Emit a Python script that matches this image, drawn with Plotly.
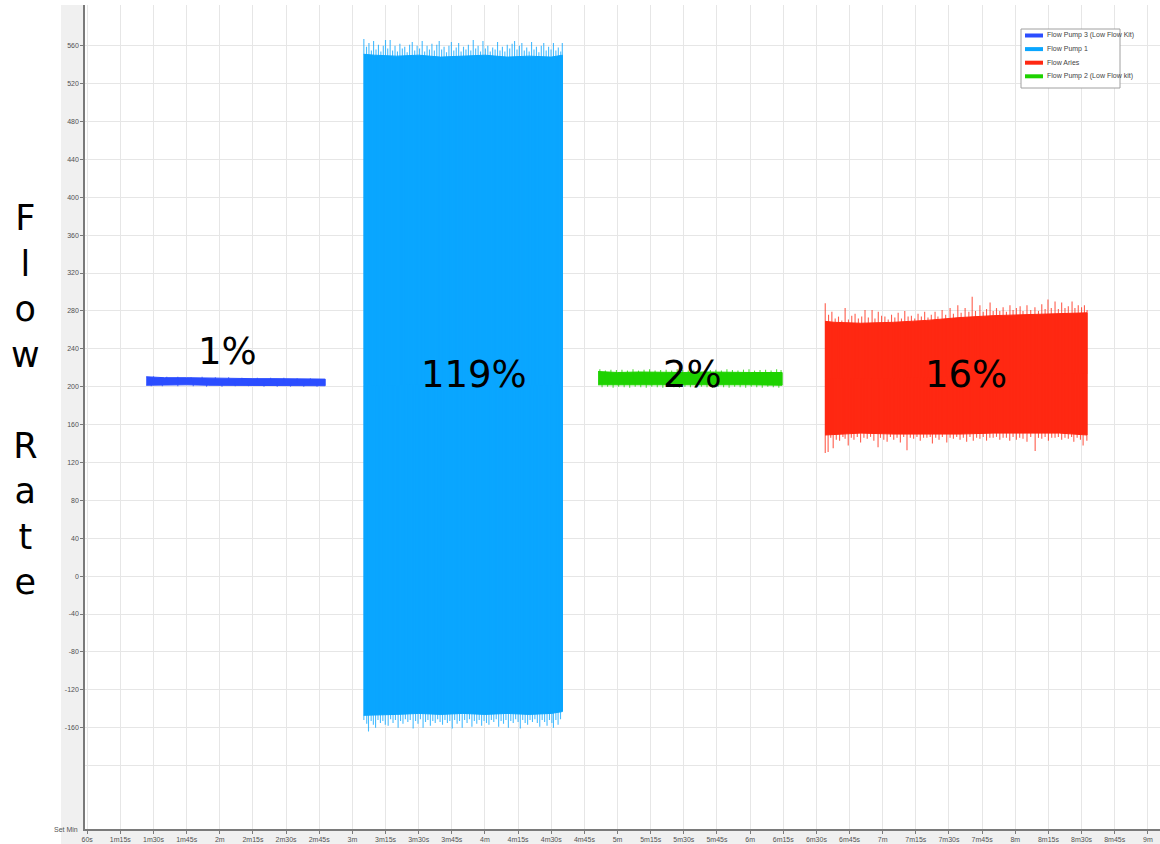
import numpy as np
import plotly.graph_objects as go

# ---------------------------------------------------------------------------
# Flow traces, summarised as the body of each band (upper / lower envelope)
# plus the individual excursions that poke out beyond the body.
# Time in seconds, flow in the instrument's units.
# ---------------------------------------------------------------------------

# Flow Pump 3 (Low Flow Kit)
pump3_t = [86.7, 95, 105, 115, 125, 135, 145, 155, 167.7]
pump3_hi = [210.5, 209.5, 209.5, 209, 209, 208.5, 208.5, 208, 208]
pump3_lo = [201.5, 202, 202, 201.5, 201.5, 201.5, 201, 201, 201]
pump3_peaks = [(90, 211), (96, 210.5), (101, 210.5), (107, 210), (112, 210.5), (118, 210),
               (124, 210), (130, 209.5), (137, 209.5), (143, 209.5), (149, 209.5), (155, 209), (161, 209)]
pump3_dips = [(89, 200.5), (94, 200.5), (101, 200.5), (108, 200.5), (114, 200), (121, 200),
              (127, 200.5), (133, 200.5), (140, 200), (146, 200), (152, 200), (158, 200), (164, 200)]

# Flow Pump 1
pump1_t = [185.1, 190, 200, 210, 220, 230, 240, 250, 260, 270, 275.1]
pump1_hi = [551, 550, 549, 550, 548, 549, 550, 548, 549, 548, 550]
pump1_lo = [-147, -147, -146, -145, -146, -145, -146, -145, -146, -145, -143]
pump1_peaks = [
    (185.2, 567), (186.4, 559), (187.5, 563), (188.6, 555), (189.6, 565), (190.7, 556),
    (191.8, 561), (192.9, 554), (194.0, 560), (195.0, 566), (196.0, 557), (197.1, 566),
    (198.2, 555), (199.3, 560), (200.4, 554), (201.5, 562), (202.6, 557), (203.7, 559),
    (204.8, 553), (205.9, 561), (207.1, 564), (208.2, 555), (209.3, 560), (210.4, 557),
    (211.6, 565), (212.7, 554), (213.8, 560), (214.9, 556), (216.0, 562), (217.1, 555),
    (218.2, 561), (219.3, 565), (220.4, 556), (221.5, 559), (222.6, 553), (223.7, 560),
    (224.8, 564), (225.9, 555), (227.0, 558), (228.1, 563), (229.2, 554), (230.3, 559),
    (231.4, 556), (232.5, 561), (233.6, 555), (234.7, 566), (235.8, 557), (236.9, 560),
    (238.0, 554), (239.1, 565), (240.2, 557), (241.3, 560), (242.4, 554), (243.5, 558),
    (244.6, 556), (245.7, 564), (246.8, 555), (247.9, 559), (249.0, 554), (250.1, 561),
    (251.2, 557), (252.3, 562), (253.4, 565), (254.5, 556), (255.6, 560), (256.7, 563),
    (257.8, 555), (258.9, 558), (260.0, 554), (261.1, 564), (262.2, 556), (263.3, 559),
    (264.4, 553), (265.5, 560), (266.6, 563), (267.7, 555), (268.8, 559), (269.9, 556),
    (271.0, 563), (272.1, 555), (273.2, 558), (274.3, 554), (275.0, 563),
]
pump1_dips = [
    (185.2, -152), (186.5, -156), (187.3, -164), (188.5, -153), (189.5, -157), (190.5, -160),
    (191.6, -152), (192.7, -155), (193.8, -153), (194.9, -157), (196.2, -158), (197.3, -151),
    (198.4, -155), (199.5, -152), (200.7, -160), (201.8, -153), (202.9, -156), (204.0, -151),
    (205.1, -154), (206.2, -152), (207.5, -161), (208.6, -153), (209.7, -156), (210.8, -151),
    (212.0, -160), (213.1, -154), (214.2, -152), (215.3, -158), (216.4, -153), (217.5, -155),
    (218.6, -151), (219.7, -154), (220.8, -157), (221.9, -152), (223.0, -155), (224.1, -153),
    (225.2, -161), (226.3, -152), (227.4, -156), (228.5, -153), (229.7, -160), (230.8, -152),
    (231.9, -155), (233.0, -151), (234.1, -159), (235.2, -153), (236.3, -156), (237.4, -152),
    (238.5, -158), (239.6, -153), (240.7, -155), (241.8, -157), (242.9, -152), (244.0, -154),
    (245.1, -151), (246.2, -159), (247.3, -153), (248.4, -156), (249.5, -152), (250.6, -160),
    (251.7, -153), (252.8, -155), (253.9, -151), (255.0, -154), (256.0, -161), (257.1, -152),
    (258.2, -155), (259.3, -157), (260.4, -152), (261.5, -154), (262.6, -151), (263.7, -155),
    (264.8, -159), (265.9, -152), (267.0, -154), (268.1, -158), (269.2, -152), (270.3, -155),
    (271.0, -160), (272.1, -152), (273.1, -157), (274.2, -151),
]

# Flow Pump 2 (Low Flow kit)
pump2_t = [291.2, 300, 310, 320, 330, 340, 350, 360, 374.5]
pump2_hi = [216, 215, 215.5, 215, 215, 215.5, 215, 215, 215]
pump2_lo = [202, 202, 201.5, 202, 202, 201.5, 202, 202, 201.5]
pump2_peaks = [
    (292, 218.5), (294.5, 217), (297, 218), (299.5, 217.5), (302, 218), (304.5, 217),
    (307, 218.5), (309.5, 217), (312, 218), (314.5, 218.5), (317, 217), (319.5, 217.5),
    (322, 218), (324.5, 217), (327, 218.5), (329.5, 217.5), (332, 217), (334.5, 218),
    (337, 218.5), (339.5, 217), (342, 217.5), (344.5, 218), (347, 217), (349.5, 218.5),
    (352, 217.5), (354.5, 217), (357, 218), (359.5, 218.5), (362, 217), (364.5, 217.5),
    (367, 218), (369.5, 217), (372, 218.5), (374, 217.5),
]
pump2_dips = [
    (293, 199.5), (295.5, 200), (298, 199), (300.5, 200), (303, 199.5), (305.5, 199),
    (308, 200), (310.5, 199.5), (313, 199), (315.5, 200), (318, 199.5), (320.5, 199),
    (323, 200), (325.5, 199.5), (328, 199), (330.5, 200), (333, 199.5), (335.5, 199),
    (338, 200), (340.5, 199.5), (343, 199), (345.5, 200), (348, 199.5), (350.5, 199),
    (353, 200), (355.5, 199.5), (358, 199), (360.5, 200), (363, 199.5), (365.5, 199),
    (368, 200), (370.5, 199.5), (373, 199),
]

# Flow Aries
aries_t = [393.9, 398, 410, 425, 440, 455, 470, 485, 500, 512.5]
aries_hi = [269, 268, 267, 268, 270, 273, 275, 276, 277, 278]
aries_lo = [149, 150, 151, 150, 150, 150, 151, 151, 151, 149]
aries_peaks = [
    (394.0, 288), (395.5, 276), (397.0, 279), (398.5, 272), (400.0, 274), (401.5, 270),
    (403.0, 283), (404.5, 271), (406.0, 275), (407.5, 277), (409.0, 272), (410.5, 274),
    (412.0, 281), (413.5, 273), (415.2, 281), (416.5, 272), (418.0, 279), (419.5, 275),
    (421.0, 274), (422.5, 271), (424.0, 276), (425.5, 273), (427.0, 278), (428.5, 272),
    (430.0, 280), (431.5, 274), (433.0, 275), (434.5, 272), (436.0, 277), (437.5, 274),
    (439.0, 279), (440.5, 273), (442.0, 276), (443.7, 279), (445.0, 274), (446.9, 281),
    (448.5, 276), (450.5, 283), (452.0, 277), (454.0, 286), (455.5, 278), (457.3, 283),
    (459.0, 279), (460.5, 295), (462.0, 280), (464.0, 286), (465.5, 279), (467.0, 282),
    (468.6, 289), (470.0, 280), (471.5, 283), (473.0, 280), (474.5, 284), (476.0, 279),
    (477.6, 286), (479.0, 281), (480.5, 283), (482.2, 285), (483.5, 280), (485.3, 286),
    (487.0, 281), (488.9, 284), (490.5, 280), (492.0, 287), (493.5, 282), (494.8, 292),
    (496.3, 283), (498.0, 290), (499.5, 282), (501.0, 289), (502.5, 283), (504.0, 285),
    (505.7, 290), (507.0, 283), (508.5, 286), (510.0, 284), (511.3, 286), (512.5, 281),
]
aries_dips = [
    (394.0, 130), (395.3, 131), (396.5, 146), (397.6, 135), (399.0, 144), (400.5, 143),
    (402.0, 147), (403.0, 145), (404.4, 138), (405.8, 146), (407.0, 144), (408.5, 147),
    (410.0, 141), (411.5, 146), (413.0, 145), (414.5, 147), (416.0, 143), (417.9, 136),
    (419.0, 146), (420.5, 144), (422.0, 142), (423.5, 147), (425.0, 144), (426.5, 146),
    (428.0, 141), (429.5, 147), (431.0, 133), (432.5, 146), (434.0, 145), (435.5, 147),
    (437.0, 143), (438.5, 146), (440.0, 146), (441.5, 147), (442.5, 140), (444.0, 146),
    (445.5, 144), (447.0, 147), (449.0, 141), (450.5, 146), (452.0, 145), (453.5, 147),
    (455.0, 144), (456.5, 146), (458.0, 142), (459.5, 147), (461.0, 143), (462.5, 146),
    (464.0, 145), (465.5, 147), (467.0, 143), (468.5, 146), (470.0, 146), (471.5, 147),
    (473.0, 144), (474.5, 146), (476.0, 146), (477.5, 143), (479.0, 147), (480.5, 144),
    (482.0, 146), (483.5, 145), (485.3, 142), (487.0, 147), (489.0, 132), (490.5, 146),
    (492.0, 145), (493.5, 147), (495.0, 143), (496.5, 146), (498.0, 146), (499.5, 147),
    (501.0, 144), (502.5, 146), (504.0, 145), (505.5, 147), (506.5, 142), (508.0, 146),
    (509.5, 144), (510.7, 138), (512.4, 143),
]

series_names = ["Flow Pump 3 (Low Flow Kit)", "Flow Pump 1", "Flow Aries", "Flow Pump 2 (Low Flow kit)"]
series_colors = ["#2b4dff", "#0aa6ff", "#ff2812", "#1ed200"]

# Percent labels written on each band: (text, time, flow)
band_labels = [("1%", 123.3, 237), ("119%", 235.1, 212.5), ("2%", 333.8, 212.5), ("16%", 457.7, 212.5)]

# Axis ticks
x_tick_vals = [60, 75, 90, 105, 120, 135, 150, 165, 180, 195, 210, 225, 240, 255, 270, 285,
               300, 315, 330, 345, 360, 375, 390, 405, 420, 435, 450, 465, 480, 495, 510, 525, 540]
x_tick_text = ["60s", "1m15s", "1m30s", "1m45s", "2m", "2m15s", "2m30s", "2m45s", "3m", "3m15s",
               "3m30s", "3m45s", "4m", "4m15s", "4m30s", "4m45s", "5m", "5m15s", "5m30s", "5m45s",
               "6m", "6m15s", "6m30s", "6m45s", "7m", "7m15s", "7m30s", "7m45s", "8m", "8m15s",
               "8m30s", "8m45s", "9m"]
y_tick_vals = [-160, -120, -80, -40, 0, 40, 80, 120, 160, 200, 240, 280, 320, 360, 400,
               440, 480, 520, 560]
y_tick_text = ["-160", "-120", "-80", "-40", "0", "40", "80", "120", "160", "200", "240",
               "280", "320", "360", "400", "440", "480", "520", "560"]
y_extra_grid = [-200]

# ---------------------------------------------------------------------------
W, H = 1160, 844
ML, MR, MT, MB = 85, 0, 5, 15
PW, PH = W - ML - MR, H - MT - MB


def px(x):
    return (x - ML) / PW


def py(y):
    return 1 - (y - MT) / PH


fig = go.Figure()


def add_band(t, hi, lo, peaks, dips, color):
    t = np.asarray(t, float)
    hi = np.asarray(hi, float)
    lo = np.asarray(lo, float)
    # body of the band
    fig.add_trace(go.Scatter(
        x=np.concatenate([t, t[::-1]]), y=np.concatenate([hi, lo[::-1]]),
        fill="toself", fillcolor=color, mode="lines",
        line=dict(color=color, width=1), hoverinfo="skip", showlegend=False,
    ))
    # excursions beyond the body, drawn from the band centre out to the extreme
    xs, ys = [], []
    for tt, v in list(peaks) + list(dips):
        mid = (np.interp(tt, t, hi) + np.interp(tt, t, lo)) / 2
        xs += [tt, tt, None]
        ys += [mid, v, None]
    if xs:
        fig.add_trace(go.Scatter(
            x=xs, y=ys, mode="lines", line=dict(color=color, width=1.1),
            opacity=0.75, hoverinfo="skip", showlegend=False,
        ))


add_band(pump3_t, pump3_hi, pump3_lo, pump3_peaks, pump3_dips, series_colors[0])
add_band(pump1_t, pump1_hi, pump1_lo, pump1_peaks, pump1_dips, series_colors[1])
add_band(pump2_t, pump2_hi, pump2_lo, pump2_peaks, pump2_dips, series_colors[3])
add_band(aries_t, aries_hi, aries_lo, aries_peaks, aries_dips, series_colors[2])

annotations = []
for text, tx, ty in band_labels:
    annotations.append(dict(x=tx, y=ty, xref="x", yref="y", text=text, showarrow=False,
                            font=dict(family="DejaVu Sans", size=37, color="#000000"),
                            xanchor="center", yanchor="middle"))

# vertical axis title, one letter per line
annotations.append(dict(
    x=px(25), y=py(400), xref="paper", yref="paper",
    text="<br>".join(["F", "l", "o", "w", "\u00a0", "R", "a", "t", "e"]),
    showarrow=False, font=dict(family="DejaVu Sans", size=35, color="#000000"),
    xanchor="center", yanchor="middle", align="center",
))

small_font = "Liberation Sans Narrow, Liberation Sans, sans-serif"

annotations.append(dict(
    x=px(80), y=py(829), xref="paper", yref="paper", text="Set Min", showarrow=False,
    font=dict(family=small_font, size=7, color="#555555"),
    xanchor="right", yanchor="middle",
))

shapes = [
    # grey frame strips around the plotting area
    dict(type="rect", xref="paper", yref="paper", x0=px(61), x1=px(85), y0=py(844), y1=py(5),
         fillcolor="#f0f0f0", line=dict(width=0), layer="below"),
    dict(type="rect", xref="paper", yref="paper", x0=px(61), x1=px(1160), y0=py(844), y1=py(829),
         fillcolor="#f0f0f0", line=dict(width=0), layer="below"),
]
# unlabelled grid line below the last tick
for gy in y_extra_grid:
    shapes.append(dict(type="line", xref="paper", yref="y", x0=0, x1=1, y0=gy, y1=gy,
                       line=dict(color="#e6e6e6", width=1), layer="below"))

# legend box
lx0, lx1, ly0, ly1 = 1021, 1120, 29, 88
shapes.append(dict(type="rect", xref="paper", yref="paper", x0=px(lx0), x1=px(lx1),
                   y0=py(ly1), y1=py(ly0), fillcolor="#ffffff",
                   line=dict(color="#a0a0a0", width=1), layer="above"))
for i, (name, color) in enumerate(zip(series_names, series_colors)):
    yy = 35.5 + i * 13.6
    shapes.append(dict(type="line", xref="paper", yref="paper", x0=px(1025), x1=px(1043),
                       y0=py(yy), y1=py(yy), line=dict(color=color, width=4), layer="above"))
    annotations.append(dict(x=px(1045), y=py(yy), xref="paper", yref="paper", text=name,
                            showarrow=False, xanchor="left", yanchor="middle",
                            font=dict(family=small_font, size=7, color="#444444")))

tick_font = dict(family=small_font, size=7, color="#505050")

fig.update_layout(
    width=W, height=H,
    margin=dict(l=ML, r=MR, t=MT, b=MB),
    paper_bgcolor="#ffffff", plot_bgcolor="#ffffff",
    showlegend=False,
    annotations=annotations, shapes=shapes,
    xaxis=dict(range=[59, 545.5], tickmode="array", tickvals=x_tick_vals, ticktext=x_tick_text,
               showgrid=True, gridcolor="#e6e6e6", gridwidth=1, zeroline=False,
               showline=True, linecolor="#7a7a7a", linewidth=1.5,
               ticks="outside", ticklen=3, tickcolor="#7a7a7a", tickfont=tick_font),
    yaxis=dict(range=[-267, 603], tickmode="array", tickvals=y_tick_vals, ticktext=y_tick_text,
               showgrid=True, gridcolor="#e6e6e6", gridwidth=1, zeroline=False,
               showline=True, linecolor="#7a7a7a", linewidth=1.5,
               ticks="outside", ticklen=3, tickcolor="#7a7a7a", tickfont=tick_font),
)

fig.write_html("out.html")
